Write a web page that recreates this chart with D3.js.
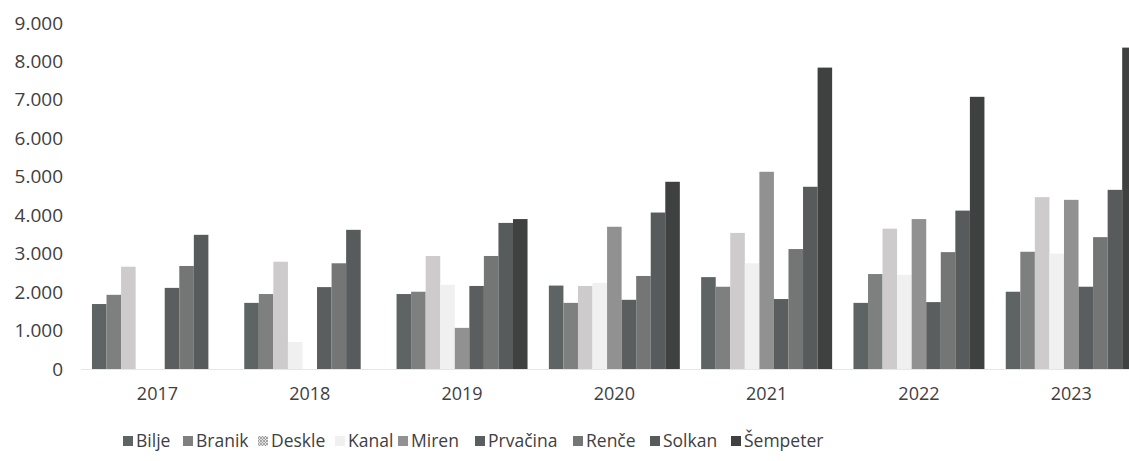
<!DOCTYPE html>
<html><head><meta charset="utf-8">
<script src="https://cdn.jsdelivr.net/npm/d3@7"></script>
<style>body{margin:0;background:#fff}svg{display:block}</style>
</head><body><svg id="c" width="1129" height="461"></svg>
<script>
const years = ["2017","2018","2019","2020","2021","2022","2023"];
const seriesNames = ["Bilje","Branik","Deskle","Kanal","Miren","Prvačina","Renče","Solkan","Šempeter"];
const bilje    = [1690,1720,1950,2170,2390,1720,2010];
const branik   = [1930,1950,2010,1720,2140,2470,3050];
const deskle   = [2660,2790,2940,2160,3540,3650,4470];
const kanal    = [0,700,2190,2240,2750,2450,3000];
const miren    = [0,0,1070,3700,5130,3900,4400];
const prvacina = [2110,2130,2160,1800,1820,1740,2140];
const rence    = [2680,2750,2940,2420,3120,3040,3430];
const solkan   = [3490,3620,3800,4070,4740,4120,4660];
const sempeter = [0,0,3900,4870,7840,7080,8360];
const yTicks = [0,1000,2000,3000,4000,5000,6000,7000,8000,9000];
const colors = ["#5e6363","#7e8080","#cdcbcc","#f0f0f0","#919191","#5a5e5e","#747676","#575b5b","#3f4141"];

const values = [bilje,branik,deskle,kanal,miren,prvacina,rence,solkan,sempeter];
const svg = d3.select("#c");
const fmt = v => v === 0 ? "0" : d3.format(",")(v).replace(/,/g,".");

const x0 = d3.scaleBand().domain(years).range([81.3,1147.4]).paddingInner(0.14).paddingOuter(0.07);
const x1 = d3.scaleBand().domain(seriesNames).range([0,x0.bandwidth()]);
const y = d3.scaleLinear().domain([0,9000]).range([369,23]);

// baseline
svg.append("line").attr("x1",81).attr("x2",1129).attr("y1",y(0)+0.5).attr("y2",y(0)+0.5)
  .attr("stroke","#e6e6e6").attr("stroke-width",1);

const g = svg.append("g");
years.forEach((yr,i)=>{
  seriesNames.forEach((s,j)=>{
    const v = values[j][i];
    if(!v) return;
    g.append("rect")
      .attr("x", x0(yr)+x1(s))
      .attr("y", y(v))
      .attr("width", x1.bandwidth())
      .attr("height", y(0)-y(v))
      .attr("fill", colors[j]);
  });
});

// y axis
const ya = svg.append("g").attr("transform","translate(63,0)")
  .call(d3.axisLeft(y).tickValues(yTicks).tickFormat(fmt).tickSize(0).tickPadding(0));
ya.select(".domain").remove();
ya.selectAll("text").attr("font-family","'Open Sans',sans-serif").attr("font-size",19).attr("fill","#404040");

// x axis
const xa = svg.append("g").attr("transform","translate(0,"+(y(0)+18)+")")
  .call(d3.axisBottom(x0).tickSize(0).tickPadding(0));
xa.select(".domain").remove();
xa.selectAll("text").attr("font-family","'Open Sans',sans-serif").attr("font-size",18).attr("fill","#404040").attr("dy","0.71em");

// legend
const defs = svg.append("defs");
const pat = defs.append("pattern").attr("id","hatch").attr("width",3).attr("height",3).attr("patternUnits","userSpaceOnUse");
pat.append("rect").attr("width",3).attr("height",3).attr("fill","#e6e6e6");
pat.append("path").attr("d","M0,0L3,3M3,0L0,3").attr("stroke","#8a8a8a").attr("stroke-width",0.7);

const legX = [123,183,258,335,398,475,573,650,731];
const lg = svg.append("g").attr("transform","translate(0,441)");
seriesNames.forEach((s,j)=>{
  const it = lg.append("g").attr("transform","translate("+legX[j]+",0)");
  it.append("rect").attr("x",0).attr("y",-5).attr("width",10).attr("height",10)
    .attr("fill", j===2 ? "url(#hatch)" : colors[j]);
  it.append("text").attr("x",13).attr("y",0).attr("dy","0.35em")
    .attr("font-family","'Open Sans',sans-serif").attr("font-size",17.5).attr("fill","#404040").text(s);
});
</script></body></html>
